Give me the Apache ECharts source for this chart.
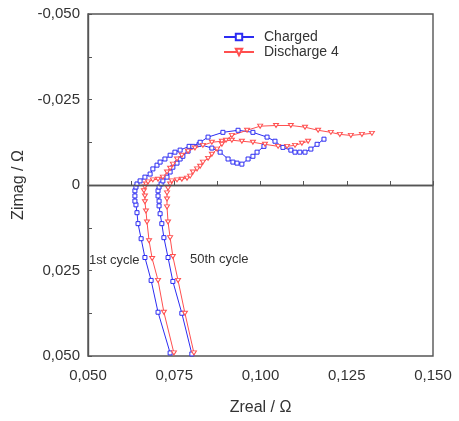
<!DOCTYPE html>
<html>
<head>
<meta charset="utf-8">
<script src="https://cdn.jsdelivr.net/npm/echarts@6/dist/echarts.min.js"></script>
<style>
  html, body { margin: 0; padding: 0; background: #fff; }
  #chart { width: 459px; height: 421px; }
</style>
</head>
<body>
<div id="chart"></div>
<script>
// [Zreal, Zimag] pairs (Ohm)
const charged_1st = [
    [0.0738, 0.0491], [0.0703, 0.0372], [0.0683, 0.0279], [0.0665, 0.0212], [0.0654, 0.0157],
    [0.0645, 0.0113], [0.0642, 0.0081], [0.0639, 0.0058], [0.0636, 0.0047], [0.0636, 0.0032],
    [0.0636, 0.0017], [0.0639, 0.0006], [0.0642, -0.0003], [0.0651, -0.0012], [0.0665, -0.0023],
    [0.0680, -0.0032], [0.0688, -0.0047], [0.0700, -0.0058], [0.0709, -0.0067], [0.0723, -0.0076],
    [0.0738, -0.0087], [0.0752, -0.0096], [0.0767, -0.0102], [0.0793, -0.0113], [0.0822, -0.0119],
    [0.0859, -0.0108], [0.0883, -0.0096], [0.0906, -0.0076], [0.0920, -0.0067], [0.0932, -0.0064],
    [0.0946, -0.0061], [0.0964, -0.0076], [0.0978, -0.0084], [0.0990, -0.0096], [0.1010, -0.0113]
];
const charged_50th = [
    [0.0801, 0.0494], [0.0772, 0.0375], [0.0746, 0.0282], [0.0732, 0.0212], [0.0720, 0.0154],
    [0.0714, 0.0113], [0.0709, 0.0084], [0.0706, 0.0061], [0.0706, 0.0047], [0.0703, 0.0032],
    [0.0703, 0.0017], [0.0706, 0.0006], [0.0712, -0.0003], [0.0717, -0.0012], [0.0729, -0.0023],
    [0.0738, -0.0038], [0.0746, -0.0052], [0.0758, -0.0064], [0.0767, -0.0076], [0.0775, -0.0084],
    [0.0790, -0.0099], [0.0804, -0.0113], [0.0825, -0.0125], [0.0848, -0.0140], [0.0891, -0.0154],
    [0.0935, -0.0160], [0.0978, -0.0154], [0.1019, -0.0140], [0.1042, -0.0128], [0.1065, -0.0110],
    [0.1088, -0.0102], [0.1100, -0.0096], [0.1114, -0.0096], [0.1129, -0.0096], [0.1146, -0.0105],
    [0.1164, -0.0119], [0.1184, -0.0134]
];
const discharge_1st = [
    [0.0749, 0.0491], [0.0720, 0.0372], [0.0703, 0.0279], [0.0686, 0.0215], [0.0677, 0.0163],
    [0.0671, 0.0108], [0.0668, 0.0076], [0.0665, 0.0049], [0.0665, 0.0032], [0.0662, 0.0017],
    [0.0665, 0.0006], [0.0668, -0.0003], [0.0674, -0.0009], [0.0688, -0.0015], [0.0703, -0.0017],
    [0.0717, -0.0023], [0.0729, -0.0038], [0.0738, -0.0049], [0.0746, -0.0061], [0.0758, -0.0076],
    [0.0772, -0.0087], [0.0790, -0.0099], [0.0810, -0.0108], [0.0833, -0.0116], [0.0859, -0.0125],
    [0.0888, -0.0128], [0.0917, -0.0131], [0.0946, -0.0128], [0.0978, -0.0125], [0.1013, -0.0119],
    [0.1051, -0.0113], [0.1077, -0.0113], [0.1100, -0.0116], [0.1120, -0.0122], [0.1138, -0.0128]
];
const discharge_50th = [
    [0.0807, 0.0491], [0.0781, 0.0375], [0.0761, 0.0279], [0.0746, 0.0209], [0.0738, 0.0154],
    [0.0732, 0.0108], [0.0729, 0.0064], [0.0729, 0.0041], [0.0729, 0.0023], [0.0732, 0.0009],
    [0.0738, -0.0003], [0.0743, -0.0012], [0.0758, -0.0015], [0.0772, -0.0017], [0.0787, -0.0020],
    [0.0796, -0.0026], [0.0804, -0.0038], [0.0816, -0.0047], [0.0825, -0.0055], [0.0833, -0.0067],
    [0.0848, -0.0078], [0.0859, -0.0090], [0.0874, -0.0105], [0.0888, -0.0119], [0.0900, -0.0131],
    [0.0917, -0.0145], [0.0961, -0.0160], [0.0999, -0.0172], [0.1045, -0.0174], [0.1088, -0.0174],
    [0.1129, -0.0169], [0.1167, -0.0160], [0.1204, -0.0154], [0.1230, -0.0148], [0.1262, -0.0145],
    [0.1294, -0.0148], [0.1323, -0.0151]
];
const seriesNames = ['Charged', 'Discharge 4'];
const cycleLabels = ['1st cycle', '50th cycle'];

const blueColor = '#2c2cf2';
const redColor = '#ff4f4f';
const frameColor = '#555555';
const textColor = '#333333';
const fontFamily = 'Liberation Sans, Arial, sans-serif';
const invTriangle = 'path://M0,0L10,0L5,9Z';

function fmtComma(v) {
    if (Math.abs(v) < 1e-9) return '0';
    return v.toFixed(3).replace('.', ',');
}

function makeSeries(name, data, color, symbol) {
    return {
        name: name,
        type: 'line',
        data: data,
        symbol: symbol,
        symbolSize: symbol === 'rect' ? 4 : [5, 4],
        showAllSymbol: true,
        lineStyle: { color: color, width: 1 },
        itemStyle: { color: '#ffffff', borderColor: color, borderWidth: 1 },
        emphasis: { disabled: true },
        animation: false
    };
}

const chart = echarts.init(document.getElementById('chart'));
const zeroLine = {
    silent: true,
    symbol: ['none', 'none'],
    label: { show: false },
    lineStyle: { color: frameColor, width: 1.4, type: 'solid' },
    data: [{ yAxis: 0 }]
};
const s1 = makeSeries(seriesNames[0], charged_1st, blueColor, 'rect');
s1.markLine = zeroLine;

chart.setOption({
    animation: false,
    textStyle: { fontFamily: fontFamily },
    grid: {
        show: true, left: 88, right: 26, top: 14, bottom: 63,
        borderColor: frameColor, borderWidth: 1.4, backgroundColor: 'transparent'
    },
    legend: {
        data: seriesNames,
        orient: 'vertical',
        left: 223, top: 30, padding: 0,
        itemWidth: 30, itemHeight: 8, itemGap: 1,
        textStyle: { color: textColor, fontSize: 14, fontFamily: fontFamily, padding: [0, 0, 0, 5] }
    },
    xAxis: {
        type: 'value',
        min: 0.05, max: 0.15, interval: 0.025,
        name: 'Zreal / Ω',
        nameLocation: 'middle', nameGap: 44,
        nameTextStyle: { color: textColor, fontSize: 16, fontFamily: fontFamily },
        axisLine: { show: true, lineStyle: { color: frameColor, width: 1.4 } },
        axisTick: { show: true, inside: true, length: 4, lineStyle: { color: frameColor } },
        minorTick: { show: true, splitNumber: 2, length: 4, lineStyle: { color: frameColor } },
        axisLabel: { color: textColor, fontSize: 15, margin: 12, formatter: fmtComma },
        splitLine: { show: false }
    },
    yAxis: {
        type: 'value',
        inverse: true,
        min: -0.05, max: 0.05, interval: 0.025,
        name: 'Zimag / Ω',
        nameLocation: 'middle', nameGap: 52, nameRotate: 90,
        nameTextStyle: { color: textColor, fontSize: 16, fontFamily: fontFamily },
        axisLine: { show: true, onZero: false, lineStyle: { color: frameColor, width: 1.4 } },
        axisTick: { show: true, inside: true, length: 4, lineStyle: { color: frameColor } },
        minorTick: { show: true, splitNumber: 2, length: 4, lineStyle: { color: frameColor } },
        axisLabel: { color: textColor, fontSize: 15, margin: 8, formatter: fmtComma },
        splitLine: { show: false }
    },
    graphic: [
        { type: 'text', left: 89, top: 254, style: { text: cycleLabels[0], fill: textColor, font: '13px ' + fontFamily } },
        { type: 'text', left: 190, top: 253, style: { text: cycleLabels[1], fill: textColor, font: '13px ' + fontFamily } }
    ],
    series: [
        s1,
        makeSeries(seriesNames[0], charged_50th, blueColor, 'rect'),
        makeSeries(seriesNames[1], discharge_1st, redColor, invTriangle),
        makeSeries(seriesNames[1], discharge_50th, redColor, invTriangle)
    ]
});
</script>
</body>
</html>
